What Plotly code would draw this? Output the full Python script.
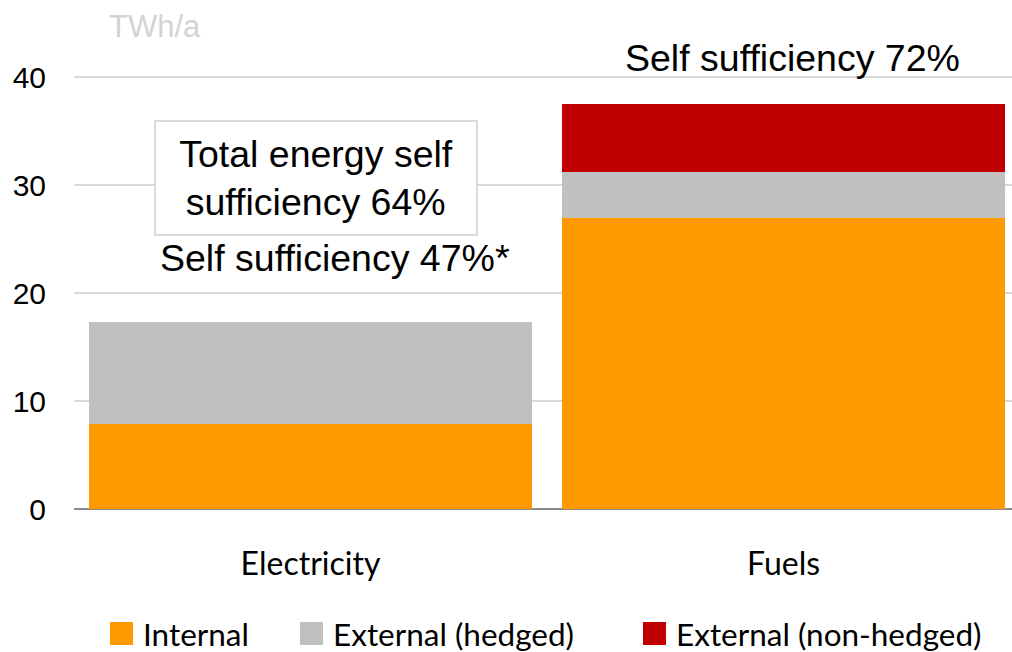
import plotly.graph_objects as go

categories = ["Electricity", "Fuels"]
internal = [7.9, 26.9]
external_hedged = [9.4, 4.3]
external_nonhedged = [0.0, 6.3]
series_names = ["Internal", "External (hedged)", "External (non-hedged)"]
colors = ["#ff9900", "#c0c0c0", "#c00000"]

fig = go.Figure()
for name, vals, col in zip(series_names, [internal, external_hedged, external_nonhedged], colors):
    fig.add_trace(go.Bar(x=categories, y=vals, name=name, marker_color=col,
                         marker_line_width=0, width=0.937, showlegend=False))

fig.update_layout(
    barmode="stack",
    width=1012, height=652,
    margin=dict(l=74, r=0, t=23, b=143, autoexpand=False),
    plot_bgcolor="white", paper_bgcolor="white",
    font=dict(family="Liberation Sans, Arial", color="black"),
    xaxis=dict(range=[-0.5, 1.483], showgrid=False, showline=False, zeroline=False,
               tickfont=dict(family="Lato, Open Sans", size=32), ticks="",
               ticklabelstandoff=33, automargin=False),
    yaxis=dict(range=[0, 45], tickvals=[0, 10, 20, 30, 40], showgrid=True, gridcolor="#d9d9d9",
               gridwidth=1.5, zeroline=True, zerolinecolor="#8c8c8c", zerolinewidth=1.5,
               showline=False, tickfont=dict(size=30), ticklabelstandoff=27, automargin=False),
    showlegend=False,
    bargap=0,
)

def px_x(p):
    return (p - 74) / 938

def px_y(p):
    return (509 - p) / 486

# custom legend (swatches + labels)
legend_x = [110, 300, 643]
for name, col, lx in zip(series_names, colors, legend_x):
    fig.add_shape(type="rect", xref="paper", yref="paper",
                  x0=px_x(lx), x1=px_x(lx + 23), y0=px_y(645), y1=px_y(622),
                  fillcolor=col, line_width=0)
    fig.add_annotation(x=px_x(lx + 31), y=px_y(634), xref="paper", yref="paper", text=name,
                       showarrow=False, xanchor="left", yanchor="middle",
                       font=dict(family="Lato, Open Sans", size=31.5))

fig.add_annotation(x=px_x(155), y=px_y(27), xref="paper", yref="paper", text="TWh/a",
                   showarrow=False, xanchor="center", yanchor="middle",
                   font=dict(size=31, color="#d3d3d3"))
fig.add_annotation(x=px_x(792), y=px_y(58), xref="paper", yref="paper", text="Self sufficiency 72%",
                   showarrow=False, xanchor="center", yanchor="middle", font=dict(size=37.5))
fig.add_annotation(x=px_x(335), y=px_y(258), xref="paper", yref="paper", text="Self sufficiency 47%*",
                   showarrow=False, xanchor="center", yanchor="middle", font=dict(size=37.5))
fig.add_annotation(x=px_x(316), y=px_y(178), xref="paper", yref="paper",
                   text="Total energy self<br>sufficiency 64%",
                   showarrow=False, xanchor="center", yanchor="middle",
                   font=dict(size=37.5), bordercolor="#d9d9d9", borderwidth=2,
                   width=318, height=110, bgcolor="white")

fig.write_html("out.html", config={"displayModeBar": False},
               post_script="document.body.style.margin='0px';document.body.style.overflow='hidden';")
